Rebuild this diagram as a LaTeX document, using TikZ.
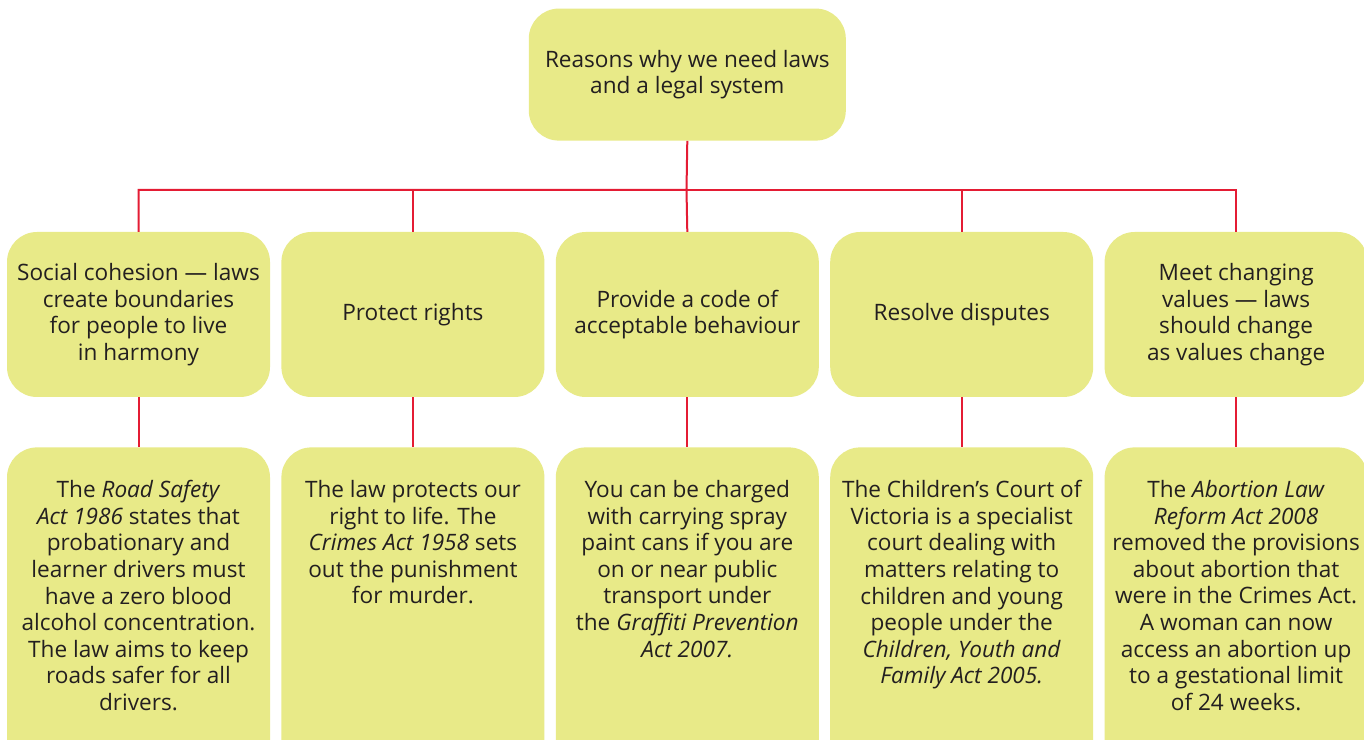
\documentclass[tikz,border=0pt]{standalone}
\usepackage{fontspec}
\setmainfont{Open Sans}
\usetikzlibrary{positioning}
\definecolor{boxfill}{RGB}{232,234,136}
\definecolor{linkred}{RGB}{228,28,52}
\definecolor{inktext}{RGB}{35,31,32}
\begin{document}
\begin{tikzpicture}[x=1pt,y=1pt]
\tikzstyle{reason}=[rectangle, rounded corners=30pt, fill=boxfill, text=inktext, minimum width=263pt, minimum height=165pt, align=center, inner sep=0pt, font=\fontsize{22.6}{26.6}\selectfont]
\tikzstyle{detail}=[reason, minimum height=330pt]
\tikzstyle{detailtext}=[align=center, inner sep=0pt, text=inktext, font=\fontsize{22.6}{26.6}\selectfont]
\tikzstyle{link}=[draw=linkred, line width=2pt]
\clip (0,0) rectangle (1364,739);
\fill[white] (0,0) rectangle (1364,739);
% middle row
\node[reason] (Cohesion) at (138.5,424.5) {Social cohesion --- laws\\ create boundaries\\ for people to live\\ in harmony};
\node[reason] (Rights) [right=11pt of Cohesion] {Protect rights};
\node[reason] (Behaviour) [right=11pt of Rights] {Provide a code of\\ acceptable behaviour};
\node[reason] (Disputes) [right=11pt of Behaviour] {Resolve disputes};
\node[reason] (Values) [right=11pt of Disputes] {Meet changing\\ values --- laws\\ should change\\ as values change};
\node[reason, minimum width=317pt, minimum height=132pt] (Reasons) [above=91pt of Behaviour] {Reasons why we need laws\\ and a legal system};
% bottom row
\node[detail] (CohesionEx) [below=50pt of Cohesion] {};
\node[detail] (RightsEx) [below=50pt of Rights] {};
\node[detail] (BehaviourEx) [below=50pt of Behaviour] {};
\node[detail] (DisputesEx) [below=50pt of Disputes] {};
\node[detail] (ValuesEx) [below=50pt of Values] {};
\node[detailtext] (CohesionText) [below=33pt of CohesionEx.north] {The \textit{Road Safety}\\ \textit{Act 1986} states that\\ probationary and\\ learner drivers must\\ have a zero blood\\ alcohol concentration.\\ The law aims to keep\\ roads safer for all\\ drivers.};
\node[detailtext] (RightsText) [below=33pt of RightsEx.north] {The law protects our\\ right to life. The\\ \textit{Crimes Act 1958} sets\\ out the punishment\\ for murder.};
\node[detailtext] (BehaviourText) [below=33pt of BehaviourEx.north] {You can be charged\\ with carrying spray\\ paint cans if you are\\ on or near public\\ transport under\\ the \textit{Graffiti Prevention}\\ \textit{Act 2007.}};
\node[detailtext] (DisputesText) [below=33pt of DisputesEx.north] {The Children's Court of\\ Victoria is a specialist\\ court dealing with\\ matters relating to\\ children and young\\ people under the\\ \textit{Children, Youth and}\\ \textit{Family Act 2005.}};
\node[detailtext] (ValuesText) [below=33pt of ValuesEx.north] {The \textit{Abortion Law}\\ \textit{Reform Act 2008}\\ removed the provisions\\ about abortion that\\ were in the Crimes Act.\\ A woman can now\\ access an abortion up\\ to a gestational limit\\ of 24 weeks.};
% connectors
\coordinate (Bus) at (686.5,549);
\draw[link] (Reasons.south) -- (Bus) -| (Cohesion.north);
\draw[link] (Bus) -| (Rights.north);
\draw[link] (Bus) -- (Behaviour.north);
\draw[link] (Bus) -| (Disputes.north);
\draw[link] (Bus) -| (Values.north);
\draw[link] (Cohesion.south) -- (CohesionEx.north);
\draw[link] (Rights.south) -- (RightsEx.north);
\draw[link] (Behaviour.south) -- (BehaviourEx.north);
\draw[link] (Disputes.south) -- (DisputesEx.north);
\draw[link] (Values.south) -- (ValuesEx.north);
\end{tikzpicture}
\end{document}
